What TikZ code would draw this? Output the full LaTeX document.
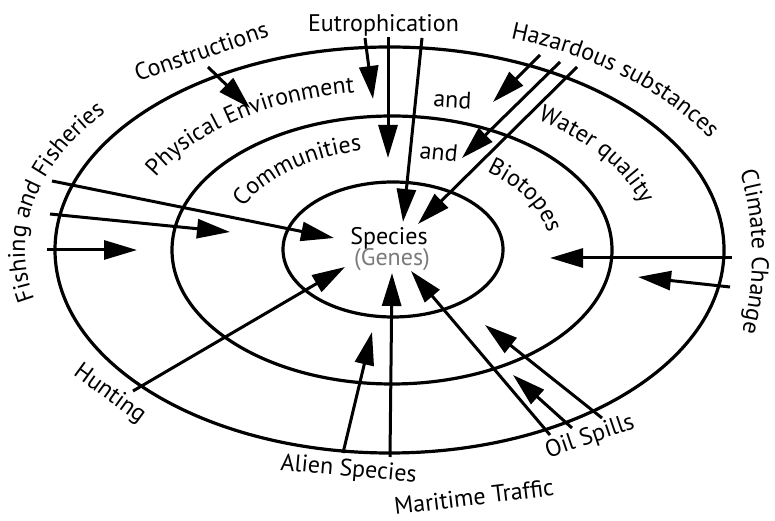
\documentclass[tikz,border=0pt]{standalone}
\usepackage{fontspec}
\setmainfont{PT Sans}
\usetikzlibrary{arrows.meta,decorations.text}
\newcommand\labfont{\fontsize{24}{28}\selectfont}
\definecolor{genegray}{HTML}{7A7A7A}
\tikzset{
  ring/.style={line width=3.2pt},
  arr/.style={line width=3pt,-{Triangle[length=33pt,width=19pt]}},
  lab/.style={font=\labfont,inner sep=0pt},
  curvedlab/.style={decorate,decoration={text along path,text={|\labfont|#1}}}
}
\begin{document}
\begin{tikzpicture}[x=1pt,y=1pt]
\useasboundingbox (0,0) rectangle (775,521);
% rings
\draw[ring] (389.5,271) ellipse[x radius=334.5,y radius=203];
\draw[ring] (392,271) ellipse[x radius=220,y radius=134];
\draw[ring] (393,271.5) ellipse[x radius=110,y radius=67.5];
% centre text
\node[lab,anchor=base] (species) at (389,276) {Species};
\node[lab,anchor=base,text=genegray] (genes) at (392,255) {(Genes)};
% straight labels
\node[lab,anchor=base] (eutro) at (383.5,489) {Eutrophication};
\node[lab,anchor=base,rotate=19] (constr) at (204,462) {Constructions};
\node[lab,anchor=base,rotate=-36] (hunt) at (106,122) {Hunting};
\node[lab,anchor=base,rotate=-5] (alien) at (348,45) {Alien Species};
\node[lab,anchor=base,rotate=7] (marit) at (475,16) {Maritime Traffic};
\node[lab,anchor=base,rotate=19] (oil) at (592,78) {Oil Spills};
\node[lab,anchor=base,rotate=-3] (and1) at (452,413) {and};
\node[lab,anchor=base,rotate=-6] (and2) at (438,361) {and};
% curved labels
\path[curvedlab={Fishing and Fisheries}] (391,271) ++(193:366 and 220) arc[start angle=193,end angle=100,x radius=366,y radius=220];
\path[curvedlab={Hazardous substances}] (391,271) ++(71:367 and 224) arc[start angle=71,end angle=0,x radius=367,y radius=224];
\path[curvedlab={Climate Change}] (391,265) ++(14.75:361 and 330) arc[start angle=14.75,end angle=-60,x radius=361,y radius=330];
\path[curvedlab={Physical Environment}] (391,271) ++(153:264 and 159) arc[start angle=153,end angle=60,x radius=264,y radius=159];
\path[curvedlab={Communities}] (391,271) ++(155:163 and 101) arc[start angle=155,end angle=70,x radius=163,y radius=101];
\path[curvedlab={Water quality}] (391,271) ++(56:262 and 157) arc[start angle=56,end angle=-20,x radius=262,y radius=157];
\path[curvedlab={Biotopes}] (391,271) ++(53:159 and 98) arc[start angle=53,end angle=-30,x radius=159,y radius=98];
% arrow coordinates
\coordinate (c1s) at (208,454); \coordinate (c1e) at (250,413);
\coordinate (e1s) at (365,483); \coordinate (e1e) at (373,422);
\coordinate (e2s) at (388,484); \coordinate (e2e) at (388,363);
\coordinate (e3s) at (422,483); \coordinate (e3e) at (403,299);
\coordinate (h1s) at (540,466); \coordinate (h1e) at (493,419);
\coordinate (h2s) at (560,459); \coordinate (h2e) at (462,363);
\coordinate (h3s) at (577,454); \coordinate (h3e) at (418,297);
\coordinate (f1s) at (52,340);  \coordinate (f1e) at (334,283);
\coordinate (f2s) at (50,307);  \coordinate (f2e) at (230,289);
\coordinate (f3s) at (47,271);  \coordinate (f3e) at (137,271);
\coordinate (hus) at (133,130); \coordinate (hue) at (345,254);
\coordinate (a1s) at (343,68);  \coordinate (a1e) at (372,189);
\coordinate (a2s) at (390,64);  \coordinate (a2e) at (392,248);
\coordinate (o1s) at (550,86);  \coordinate (o1e) at (411,250);
\coordinate (o2s) at (572,93);  \coordinate (o2e) at (513,146);
\coordinate (o3s) at (602,103); \coordinate (o3e) at (485,196);
\coordinate (k1s) at (732,263); \coordinate (k1e) at (550,263);
\coordinate (k2s) at (730,234); \coordinate (k2e) at (638,244);
% arrows
\foreach \a in {c1,e1,e2,e3,h1,h2,h3,f1,f2,f3,hu,a1,a2,o1,o2,o3,k1,k2}
  \draw[arr] (\a s) -- (\a e);
\end{tikzpicture}
\end{document}
